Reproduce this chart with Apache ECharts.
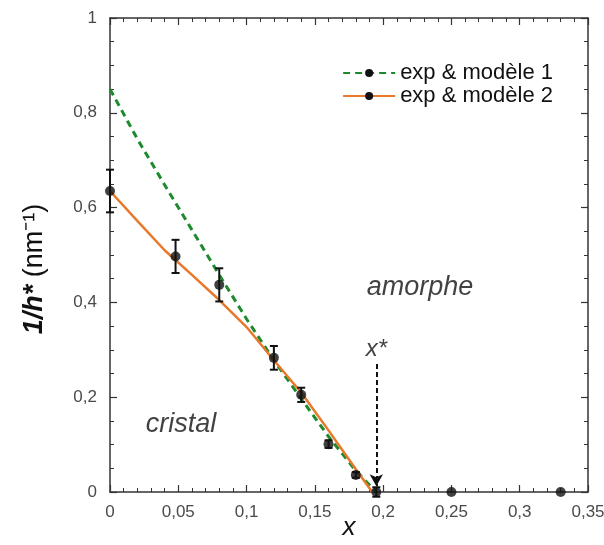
<!DOCTYPE html>
<html>
<head>
<meta charset="utf-8">
<script src="https://cdn.jsdelivr.net/npm/echarts@6/dist/echarts.min.js"></script>
<style>html,body{margin:0;padding:0;background:#fff}#c{width:604px;height:545px}</style>
</head>
<body>
<div id="c"></div>
<script>
// Experimental points
const expX = [0, 0.048, 0.08, 0.12, 0.14, 0.16, 0.18, 0.195, 0.25, 0.33];
const expY = [0.635, 0.497, 0.437, 0.283, 0.205, 0.101, 0.036, 0.0, 0.0, 0.0];
const expErr = [0.045, 0.035, 0.035, 0.025, 0.015, 0.008, 0.006, 0.01, 0.0, 0.0];
// Model 1 (green dashed)
const model1X = [0, 0.02, 0.04, 0.06, 0.08, 0.10, 0.12, 0.14, 0.16, 0.18, 0.195];
const model1Y = [0.85, 0.745, 0.648, 0.553, 0.458, 0.365, 0.278, 0.197, 0.117, 0.045, 0.0];
// Model 2 (orange solid)
const model2X = [0, 0.02, 0.04, 0.06, 0.08, 0.10, 0.12, 0.14, 0.16, 0.18, 0.192];
const model2Y = [0.635, 0.572, 0.51, 0.458, 0.405, 0.348, 0.278, 0.21, 0.13, 0.048, 0.0];
// x* marker
const xStar = 0.195;
const xStarTop = 0.27;
// Axis ticks
const xTickVals = [0, 0.05, 0.1, 0.15, 0.2, 0.25, 0.3, 0.35];
const yTickVals = [0, 0.2, 0.4, 0.6, 0.8, 1];
const seriesNames = ['exp & modèle 1', 'exp & modèle 2'];

const fmt = v => String(Math.round(v * 1000) / 1000).replace('.', ',');
const axisCol = '#333';
const FONT = 'Liberation Sans, Arial, sans-serif';
const LBL = '#4a4a4a';

function baseAxis(extra) {
  return Object.assign({
    type: 'value',
    axisLine: { show: true, onZero: false, lineStyle: { color: axisCol, width: 1.5 } },
    axisTick: { show: true, inside: true, length: 7, lineStyle: { color: axisCol, width: 1.2 } },
    splitLine: { show: false }
  }, extra);
}

const chart = echarts.init(document.getElementById('c'), null, { renderer: 'canvas' });
chart.setOption({
  animation: false,
  backgroundColor: '#fff',
  grid: { left: 110, right: 16, top: 18, bottom: 53, containLabel: false, outerBoundsMode: 'none' },
  legend: {
    top: 57, right: 46, orient: 'vertical', itemGap: 1, itemWidth: 52, itemHeight: 10,
    textStyle: { fontSize: 22, fontFamily: FONT, color: '#111' },
    data: seriesNames
  },
  xAxis: [
    baseAxis({ min: 0, max: 0.35, interval: 0.05, position: 'bottom',
      minorTick: { show: true, splitNumber: 5, length: 4, lineStyle: { color: axisCol, width: 1 } },
      name: 'x', nameLocation: 'middle', nameGap: 23, nameMoveOverlap: false,
      nameTextStyle: { fontSize: 26, fontStyle: 'italic', fontFamily: FONT, color: '#111' },
      axisLabel: { color: LBL, fontSize: 17, fontFamily: FONT, margin: 12,
        formatter: v => xTickVals.some(t => Math.abs(t - v) < 1e-9) ? fmt(v) : '' } }),
    baseAxis({ min: 0, max: 0.35, interval: 0.05, position: 'top',
      minorTick: { show: true, splitNumber: 5, length: 4, lineStyle: { color: axisCol, width: 1 } },
      axisLabel: { show: false } })
  ],
  yAxis: [
    baseAxis({ min: 0, max: 1, interval: 0.2, position: 'left',
      minorTick: { show: true, splitNumber: 4, length: 4, lineStyle: { color: axisCol, width: 1 } },
      name: '{i|1/h*} (nm⁻¹)', nameLocation: 'middle', nameGap: 62, nameRotate: 90, nameMoveOverlap: false,
      nameTextStyle: { fontSize: 27, fontFamily: FONT, color: '#111', padding: [0, 28, 0, 0],
        rich: { i: { fontSize: 27, fontStyle: 'italic', fontWeight: 'bold', fontFamily: FONT, color: '#111' } } },
      axisLabel: { color: LBL, fontSize: 17, fontFamily: FONT, margin: 13,
        formatter: v => yTickVals.some(t => Math.abs(t - v) < 1e-9) ? fmt(v) : '' } }),
    baseAxis({ min: 0, max: 1, interval: 0.2, position: 'right',
      minorTick: { show: true, splitNumber: 4, length: 4, lineStyle: { color: axisCol, width: 1 } },
      axisLabel: { show: false } })
  ],
  series: [
    {
      name: seriesNames[0], type: 'line', xAxisIndex: 0, yAxisIndex: 0,
      data: model1X.map((x, i) => [x, model1Y[i]]),
      smooth: false, showSymbol: false, symbol: 'circle', symbolSize: 10,
      itemStyle: { color: '#111' },
      lineStyle: { color: '#1e8a2e', width: 3, type: [7, 5] }, z: 2
    },
    {
      name: seriesNames[1], type: 'line', xAxisIndex: 0, yAxisIndex: 0,
      data: model2X.map((x, i) => [x, model2Y[i]]),
      smooth: false, showSymbol: false, symbol: 'circle', symbolSize: 10,
      itemStyle: { color: '#111' },
      lineStyle: { color: '#e8792a', width: 2.5 }, z: 2,
      markLine: {
        silent: true, symbol: ['none', 'arrow'], symbolSize: [10, 12],
        lineStyle: { color: '#111', type: [5, 3], width: 2 },
        label: { show: false },
        data: [[{ coord: [xStar, xStarTop] }, { coord: [xStar, 0.012] }]]
      }
    },
    {
      name: 'err', type: 'custom', xAxisIndex: 0, yAxisIndex: 0, z: 4,
      data: expX.map((x, i) => [x, expY[i], expErr[i]]),
      renderItem: (params, api) => {
        const x = api.value(0), y = api.value(1), e = api.value(2);
        if (!e) return null;
        const top = api.coord([x, y + e]);
        const bot = api.coord([x, y - e]);
        const w = 4;
        const st = { stroke: '#111', lineWidth: 2 };
        return { type: 'group', children: [
          { type: 'line', shape: { x1: top[0], y1: top[1], x2: bot[0], y2: bot[1] }, style: st },
          { type: 'line', shape: { x1: top[0] - w, y1: top[1], x2: top[0] + w, y2: top[1] }, style: st },
          { type: 'line', shape: { x1: bot[0] - w, y1: bot[1], x2: bot[0] + w, y2: bot[1] }, style: st }
        ] };
      }
    },
    {
      name: 'exp', type: 'scatter', xAxisIndex: 0, yAxisIndex: 0, z: 5,
      data: expX.map((x, i) => [x, expY[i]]),
      symbol: 'circle', symbolSize: 10, itemStyle: { color: '#111' }
    },
    {
      name: 'labels', type: 'scatter', xAxisIndex: 0, yAxisIndex: 0, z: 6,
      symbolSize: 0, silent: true,
      data: [
        { value: [0.227, 0.432], label: { formatter: 'amorphe' } },
        { value: [0.052, 0.142], label: { formatter: 'cristal' } },
        { value: [0.195, 0.3], label: { formatter: 'x*', fontSize: 24 } }
      ],
      label: { show: true, position: 'inside', fontSize: 27, fontStyle: 'italic', fontFamily: FONT, color: '#111' }
    }
  ]
});
</script>
</body>
</html>
